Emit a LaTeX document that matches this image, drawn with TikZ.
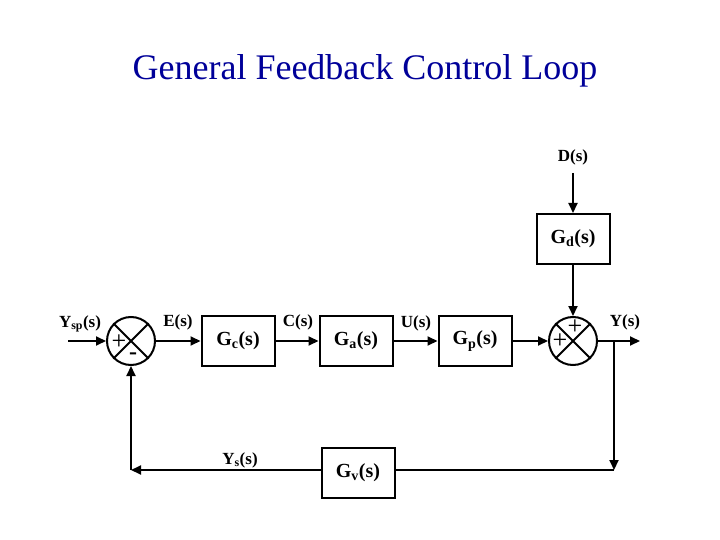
\documentclass[tikz,border=0pt]{standalone}
\usepackage{fontspec}
\setmainfont{Liberation Serif}
\usetikzlibrary{arrows.meta}
\begin{document}
\begin{tikzpicture}[x=1pt,y=-1pt,
  blk/.style={draw,line width=2pt,minimum width=73pt,minimum height=50pt,font=\fontsize{20}{22}\selectfont\bfseries},
  sumj/.style={draw,circle,line width=2pt,minimum size=48pt,inner sep=0pt},
  lab/.style={font=\fontsize{17}{18}\selectfont\bfseries},
  ln/.style={line width=2pt},
  ar/.style={ln,-{Triangle[length=10pt,width=9pt]}}]
\useasboundingbox (0,0) rectangle (720,540);
\node[text=blue!60!black,font=\fontsize{36}{40}\selectfont] (title) at (365,71) {General Feedback Control Loop};
\node[sumj] (s1) at (131,341) {};
\node[blk] (gc) at (238,341) {G$_\mathbf{c}$(s)};
\node[blk] (ga) at (356,341) {G$_\mathbf{a}$(s)};
\node[blk] (gp) at (475,341) {G$_\mathbf{p}$(s)};
\node[sumj] (s2) at (573,341) {};
\node[blk] (gd) at (573,239) {G$_\mathbf{d}$(s)};
\node[blk] (gv) at (358,473) {G$_\mathbf{v}$(s)};
\foreach \s in {s1,s2}{
  \draw[ln] (\s.north west)--(\s.south east) (\s.north east)--(\s.south west);}
\node[font=\fontsize{26}{26}\selectfont] (p1) at (119,342) {+};
\node[font=\fontsize{24}{24}\selectfont\bfseries] (m1) at (133,356) {-};
\node[font=\fontsize{26}{26}\selectfont] (p2) at (575,327) {+};
\node[font=\fontsize{26}{26}\selectfont] (p3) at (560,341) {+};
\coordinate (in) at (68,341);
\coordinate (out) at (640,341);
\coordinate (br) at (614,341);
\coordinate (cr) at (614,470);
\coordinate (cl) at (131,470);
\coordinate (dtop) at (573,173);
\node[lab] (ysp) at (80,324) {Y$_\mathbf{sp}$(s)};
\node[lab] (e) at (178,322) {E(s)};
\node[lab] (c) at (298,322) {C(s)};
\node[lab] (u) at (416,323) {U(s)};
\node[lab] (y) at (625,322) {Y(s)};
\node[lab] (ys) at (240,460) {Y$_\mathbf{s}$(s)};
\node[lab] (d) at (573,157) {D(s)};
\draw[ar] (in)--(s1.west);
\draw[ar] (s1.east)--(gc.west);
\draw[ar] (gc.east)--(ga.west);
\draw[ar] (ga.east)--(gp.west);
\draw[ar] (gp.east)--(s2.west);
\draw[ar] (s2.east)--(out);
\draw[ar] (dtop)--(gd.north);
\draw[ar] (gd.south)--(s2.north);
\draw[ar] (br)--(cr);
\draw[ln] (cr)--(gv.east |- cr);
\draw[ar] (gv.west |- cl)--(cl);
\draw[ar] (cl)--(s1.south);
\end{tikzpicture}
\end{document}
